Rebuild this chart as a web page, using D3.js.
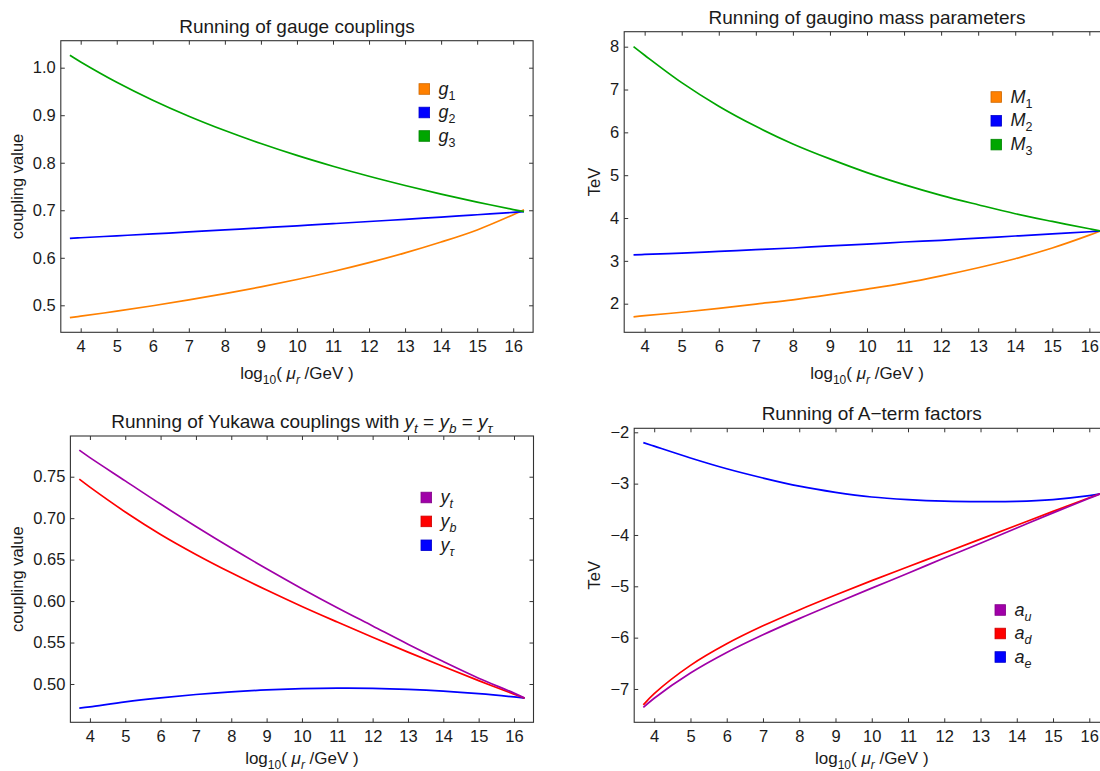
<!DOCTYPE html>
<html><head><meta charset="utf-8">
<script src="https://cdn.jsdelivr.net/npm/d3@7"></script>
<style>
body{margin:0;background:#fff}
svg{display:block}
text{font-family:"Liberation Sans",Arial,Helvetica,sans-serif;fill:#1a1a1a}
</style>
</head><body>
<svg id="chart" width="1100" height="771"></svg>
<script>
// ---- data ----
const xValues = [3.7, 4, 5, 6, 7, 8, 9, 10, 11, 12, 13, 14, 15, 16, 16.3];
const xTickValues = [4, 5, 6, 7, 8, 9, 10, 11, 12, 13, 14, 15, 16];

const g1 = [0.474, 0.4771, 0.4877, 0.4991, 0.5114, 0.5246, 0.5388, 0.5543, 0.5712, 0.5898, 0.6103, 0.6331, 0.6586, 0.6905, 0.701];
const g2 = [0.641, 0.6422, 0.6462, 0.6502, 0.6544, 0.6586, 0.6629, 0.6672, 0.6717, 0.6763, 0.6809, 0.6857, 0.6905, 0.6955, 0.697];
const g3 = [1.0262, 1.0122, 0.9695, 0.9317, 0.898, 0.8678, 0.8404, 0.8154, 0.7926, 0.7715, 0.7521, 0.734, 0.7172, 0.7015, 0.697];
const gaugeTicks = [0.5, 0.6, 0.7, 0.8, 0.9, 1.0];

const M1 = [1.69, 1.72, 1.80, 1.89, 1.99, 2.09, 2.21, 2.34, 2.48, 2.65, 2.84, 3.05, 3.30, 3.60, 3.70];
const M2 = [3.14, 3.15, 3.18, 3.22, 3.26, 3.30, 3.35, 3.39, 3.44, 3.48, 3.53, 3.58, 3.63, 3.68, 3.70];
const M3 = [8.00, 7.80, 7.16, 6.61, 6.14, 5.73, 5.38, 5.06, 4.78, 4.53, 4.31, 4.10, 3.92, 3.75, 3.70];
const massTicks = [2, 3, 4, 5, 6, 7, 8];

const yt = [0.782, 0.773, 0.745, 0.717, 0.690, 0.664, 0.639, 0.615, 0.592, 0.570, 0.548, 0.527, 0.507, 0.489, 0.483];
const yb = [0.747, 0.7374, 0.7075, 0.6804, 0.6563, 0.6341, 0.6133, 0.5935, 0.5747, 0.5563, 0.5384, 0.5210, 0.5041, 0.4877, 0.483];
const ytau = [0.471, 0.4725, 0.4785, 0.4833, 0.4873, 0.4905, 0.4928, 0.4943, 0.4950, 0.4948, 0.4936, 0.4915, 0.4884, 0.4844, 0.483];
const yukawaTicks = [0.50, 0.55, 0.60, 0.65, 0.70, 0.75];

const au = [-7.36, -7.18, -6.69, -6.29, -5.945, -5.63, -5.33, -5.035, -4.745, -4.45, -4.16, -3.865, -3.57, -3.285, -3.20];
const ad = [-7.31, -7.09, -6.54, -6.12, -5.77, -5.46, -5.17, -4.89, -4.62, -4.35, -4.08, -3.81, -3.54, -3.275, -3.20];
const ae = [-2.20, -2.27, -2.50, -2.71, -2.89, -3.05, -3.17, -3.26, -3.31, -3.34, -3.35, -3.345, -3.31, -3.235, -3.20];
const aTermTicks = [-7, -6, -5, -4, -3, -2];

// ---- styling ----
const C = {orange:"#FF8000", blue:"#0000FF", green:"#00A600", purple:"#A000A8", red:"#FF0000"};
const xDomain = [3.448, 16.552];

const xAxisLabel = [{t:"log"},{t:"10",sub:true},{t:"( "},{t:"μ",it:true},{t:"r",it:true,sub:true},{t:" /GeV )"}];

const panels = [
  {box:{l:60.8,r:533.1,t:40.7,b:332.3}, yDomain:[0.4432,1.0568], yTicks:gaugeTicks, yFmt:".1f",
   yLabel:"coupling value", yLabelX:18, xlabDy:46.5,
   title:[{t:"Running of gauge couplings"}],
   series:[{v:g1,c:C.orange,lab:[{t:"g",it:true},{t:"1",sub:true}]},
           {v:g2,c:C.blue,lab:[{t:"g",it:true},{t:"2",sub:true}]},
           {v:g3,c:C.green,lab:[{t:"g",it:true},{t:"3",sub:true}]}],
   legend:{x:419, y:89, dy:23.5}},
  {box:{l:624.2,r:1109.8,t:31.7,b:332.3}, yDomain:[1.332,8.35], yTicks:massTicks, yFmt:"d",
   yLabel:"TeV", yLabelX:595, xlabDy:46.5,
   title:[{t:"Running of gaugino mass parameters"}],
   series:[{v:M1,c:C.orange,lab:[{t:"M",it:true},{t:"1",sub:true}]},
           {v:M2,c:C.blue,lab:[{t:"M",it:true},{t:"2",sub:true}]},
           {v:M3,c:C.green,lab:[{t:"M",it:true},{t:"3",sub:true}]}],
   legend:{x:991, y:97, dy:23.8}},
  {box:{l:70.4,r:533.5,t:436,b:722.3}, yDomain:[0.4538,0.7991], yTicks:yukawaTicks, yFmt:".2f",
   yLabel:"coupling value", yLabelX:18, xlabDy:41.5,
   title:[{t:"Running of Yukawa couplings with "},{t:"y",it:true},{t:"t",it:true,sub:true},{t:" = "},
          {t:"y",it:true},{t:"b",it:true,sub:true},{t:" = "},{t:"y",it:true},{t:"τ",it:true,sub:true}],
   series:[{v:ytau,c:C.blue,lab:[{t:"y",it:true},{t:"τ",it:true,sub:true}],li:2},
           {v:yb,c:C.red,lab:[{t:"y",it:true},{t:"b",it:true,sub:true}],li:1},
           {v:yt,c:C.purple,lab:[{t:"y",it:true},{t:"t",it:true,sub:true}],li:0}],
   legend:{x:421, y:497.5, dy:23.9}},
  {box:{l:634.2,r:1109.3,t:428.3,b:722.3}, yDomain:[-7.649,-1.922], yTicks:aTermTicks, yFmt:"d",
   yLabel:"TeV", yLabelX:595, xlabDy:41.5,
   title:[{t:"Running of A−term factors"}],
   series:[{v:ae,c:C.blue,lab:[{t:"a",it:true},{t:"e",it:true,sub:true}],li:2},
           {v:ad,c:C.red,lab:[{t:"a",it:true},{t:"d",it:true,sub:true}],li:1},
           {v:au,c:C.purple,lab:[{t:"a",it:true},{t:"u",it:true,sub:true}],li:0}],
   legend:{x:995, y:610, dy:23.5}}
];

const svg = d3.select("#chart");
svg.append("rect").attr("width",1100).attr("height",771).attr("fill","#fff");

function rich(sel, parts, size, subSize){
  let shifted = false;
  parts.forEach(p => {
    const ts = sel.append("tspan").text(p.t)
      .attr("font-size", p.sub ? subSize : size)
      .attr("font-style", p.it ? "italic" : "normal");
    if (p.sub && !shifted){ ts.attr("dy", size*0.28); shifted = true; }
    else if (!p.sub && shifted){ ts.attr("dy", -size*0.28); shifted = false; }
  });
}

const TICK_FONT = 16.5;
panels.forEach((p, pi) => {
  const b = p.box;
  const x = d3.scaleLinear().domain(xDomain).range([b.l, b.r]);
  const y = d3.scaleLinear().domain(p.yDomain).range([b.b, b.t]);
  const g = svg.append("g");

  const cid = "clip"+pi;
  svg.append("clipPath").attr("id",cid).append("rect")
    .attr("x",b.l).attr("y",b.t).attr("width",b.r-b.l).attr("height",b.b-b.t);

  const line = d3.line().x((d,i)=>x(xValues[i])).y(d=>y(d)).curve(d3.curveCatmullRom.alpha(0.5));
  p.series.forEach(s => {
    g.append("path").attr("d", line(s.v)).attr("fill","none")
      .attr("stroke", s.c).attr("stroke-width",1.7).attr("clip-path","url(#"+cid+")");
  });

  const fmt = d3.format(p.yFmt);
  const bottom = g.append("g").attr("transform",`translate(0,${b.b})`)
    .call(d3.axisBottom(x).tickValues(xTickValues).tickSizeInner(-4).tickSizeOuter(0).tickPadding(7.5).tickFormat(d3.format("d")));
  const top = g.append("g").attr("transform",`translate(0,${b.t})`)
    .call(d3.axisTop(x).tickValues(xTickValues).tickSizeInner(-4).tickSizeOuter(0).tickFormat(""));
  const left = g.append("g").attr("transform",`translate(${b.l},0)`)
    .call(d3.axisLeft(y).tickValues(p.yTicks).tickSizeInner(-4).tickSizeOuter(0).tickPadding(5).tickFormat(fmt));
  const right = g.append("g").attr("transform",`translate(${b.r},0)`)
    .call(d3.axisRight(y).tickValues(p.yTicks).tickSizeInner(-4).tickSizeOuter(0).tickFormat(""));
  [bottom, top, left, right].forEach(a => {
    a.select(".domain").remove();
    a.selectAll(".tick line").attr("stroke","#333").attr("stroke-width",1);
    a.selectAll(".tick text").attr("font-size",TICK_FONT).attr("fill","#1a1a1a")
      .attr("font-family",'"Liberation Sans",Arial,sans-serif');
  });
  g.append("rect").attr("x",b.l).attr("y",b.t).attr("width",b.r-b.l).attr("height",b.b-b.t)
    .attr("fill","none").attr("stroke","#333").attr("stroke-width",1.1);

  const tt = g.append("text").attr("x",(b.l+b.r)/2).attr("y",b.t-8).attr("text-anchor","middle");
  rich(tt, p.title, 19, 13.5);

  const xl = g.append("text").attr("x",(b.l+b.r)/2).attr("y",b.b+p.xlabDy).attr("text-anchor","middle");
  rich(xl, xAxisLabel, 17, 12);

  g.append("text").attr("transform",`translate(${p.yLabelX},${(b.t+b.b)/2}) rotate(-90)`)
    .attr("text-anchor","middle").attr("dy","0.32em").attr("font-size",16.5).text(p.yLabel);

  const ordered = (p.series[0].li===undefined) ? p.series
    : p.series.slice().sort((a,b2)=>a.li-b2.li);
  ordered.forEach((s,i) => {
    const cy = p.legend.y + i*p.legend.dy;
    g.append("rect").attr("x",p.legend.x).attr("y",cy-5.3).attr("width",10.6).attr("height",10.6)
      .attr("fill",s.c).attr("stroke",d3.color(s.c).darker(0.6)).attr("stroke-width",0.8);
    const lt = g.append("text").attr("x",p.legend.x+19.5).attr("y",cy+5.5);
    rich(lt, s.lab, 18, 12.5);
  });
});
</script>
</body></html>
